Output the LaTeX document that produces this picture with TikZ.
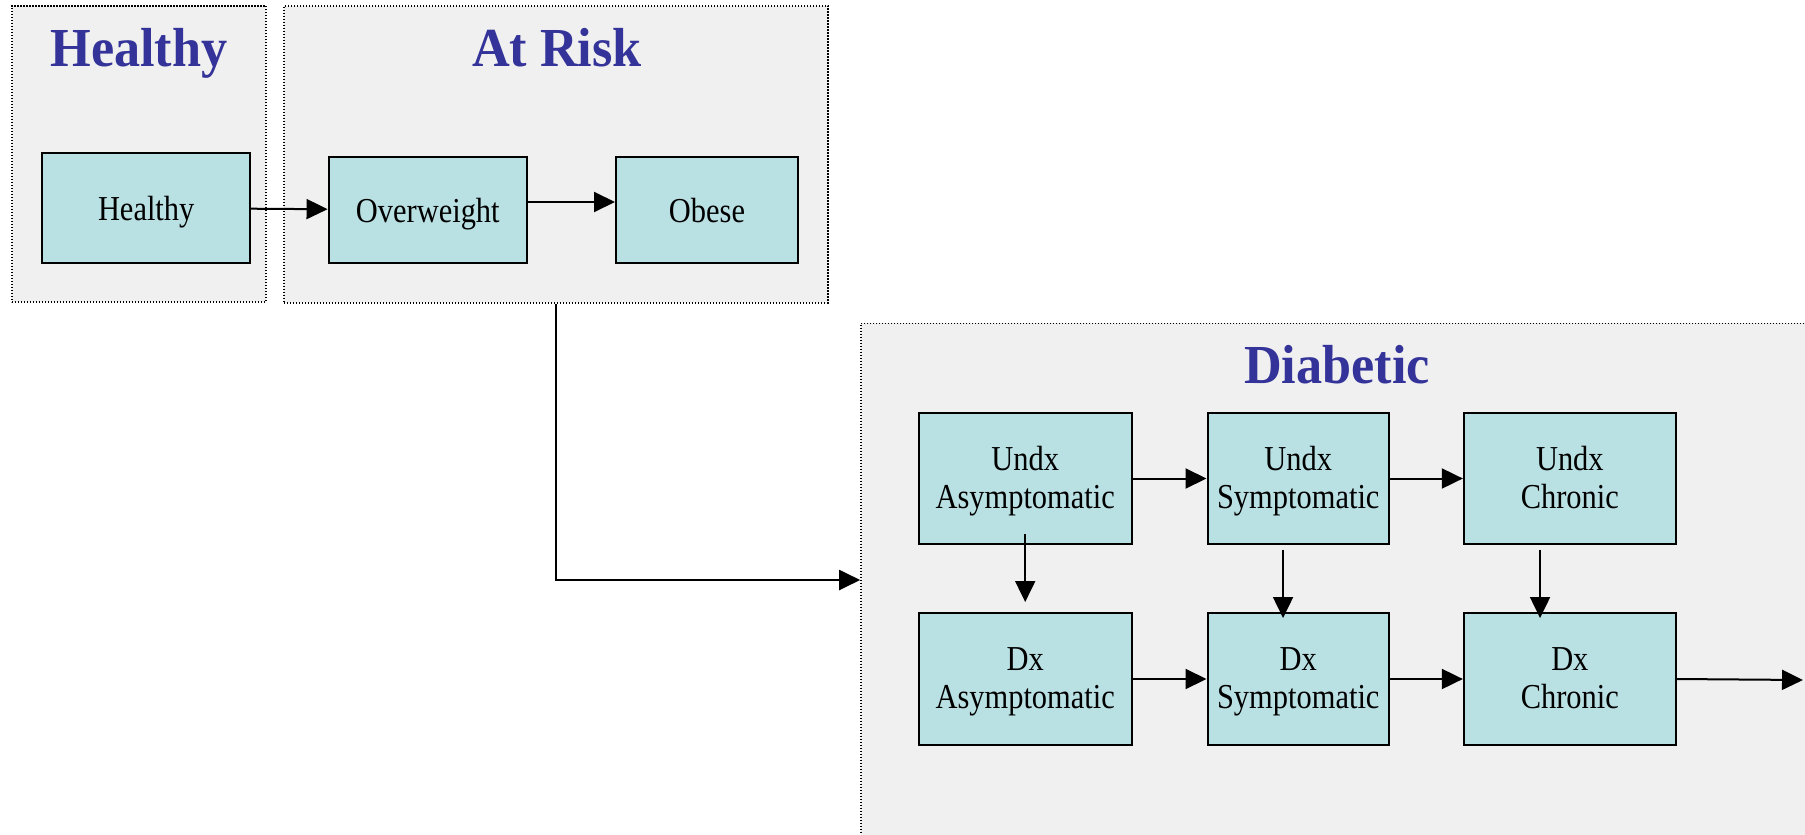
\documentclass[tikz,border=0pt]{standalone}
\usepackage{fontspec}
\setmainfont{Liberation Serif}
\newfontfamily\boxfamily[FakeStretch=0.87]{Liberation Serif}
\newfontfamily\titlefamily[FakeStretch=0.95]{Liberation Serif}
\usetikzlibrary{arrows.meta}

\definecolor{groupgray}{RGB}{240,240,240}
\definecolor{stagecyan}{RGB}{185,224,227}
\definecolor{titleblue}{RGB}{51,51,153}

\newcommand{\twolines}[2]{\rule{0pt}{16.5pt}#1\\#2\strut}

\begin{document}
\begin{tikzpicture}[x=0.5pt,y=-0.5pt,->,>={Triangle[length=10.5pt,width=10pt]},
  line width=1pt,
  group box/.style={rectangle,draw,fill=groupgray,line width=0.8pt,
    dash pattern=on 0.7pt off 0.8pt,inner sep=0pt},
  stage box/.style={rectangle,draw,fill=stagecyan,inner sep=0pt,align=center,
    font=\boxfamily\fontsize{17.5}{19.2}\selectfont},
  one line/.style={execute at begin node={\rule{0pt}{18.6pt}},execute at end node=\strut},
  group title/.style={anchor=base,text=titleblue,
    font=\titlefamily\bfseries\fontsize{27.5}{30}\selectfont}]

  \useasboundingbox (0,0) rectangle (1805,835);
  \clip (0,0) rectangle (1805,835);
  \fill[white] (0,0) rectangle (1805,835);

  % groups
  \node[group box,minimum width=127.1pt,minimum height=148.15pt] (healthy) at (138.9,153.85) {};
  \node[group box,minimum width=272pt,minimum height=148.5pt] (atrisk) at (556,154.2) {};
  \node[group box,minimum width=569.5pt,minimum height=256.7pt] (diabetic) at (1430.5,580) {};

  \node[group title] (thealthy) at (139,66) {Healthy};
  \node[group title] (tatrisk) at (557,66) {At Risk};
  \node[group title] (tdiabetic) at (1337,383) {Diabetic};

  % states
  \node[stage box,one line,minimum width=103.85pt,minimum height=55pt] (hb) at (146.2,208) {Healthy};
  \node[stage box,one line,minimum width=99.25pt,minimum height=53.15pt] (ow) at (427.8,209.9) {Overweight};
  \node[stage box,one line,minimum width=91pt,minimum height=53.15pt] (ob) at (707,209.9) {Obese};

  \node[stage box,minimum width=106.5pt,minimum height=65.5pt] (ua) at (1025.2,478.5) {\twolines{Undx}{Asymptomatic}};
  \node[stage box,minimum width=90.75pt,minimum height=65.5pt] (us) at (1298.25,478.5) {\twolines{Undx}{Symptomatic}};
  \node[stage box,minimum width=106pt,minimum height=65.5pt] (uc) at (1569.85,478.5) {\twolines{Undx}{Chronic}};
  \node[stage box,minimum width=106.5pt,minimum height=66pt] (da) at (1025.2,679) {\twolines{Dx}{Asymptomatic}};
  \node[stage box,minimum width=90.75pt,minimum height=66pt] (ds) at (1298.25,679) {\twolines{Dx}{Symptomatic}};
  \node[stage box,minimum width=106pt,minimum height=66pt] (dc) at (1569.85,679) {\twolines{Dx}{Chronic}};

  \coordinate (exit) at (1803,680);

  \path
    (hb) edge (ow)
    ([yshift=3.95pt]ow.east) edge ([yshift=3.95pt]ob.west)
    (ua) edge (us)
    (us) edge (uc)
    (da) edge (ds)
    (ds) edge (dc)
    (dc.east) edge (exit)
    ([yshift=5.5pt]ua.south) edge ([yshift=5pt]da.north)
    ([xshift=-7.6pt,yshift=-2.35pt]us.south) edge ([xshift=-7.6pt,yshift=-3pt]ds.north)
    ([xshift=-14.9pt,yshift=-2.35pt]uc.south) edge ([xshift=-14.9pt,yshift=-3pt]dc.north);

  \draw (atrisk.south) |- (diabetic.west);

\end{tikzpicture}
\end{document}
